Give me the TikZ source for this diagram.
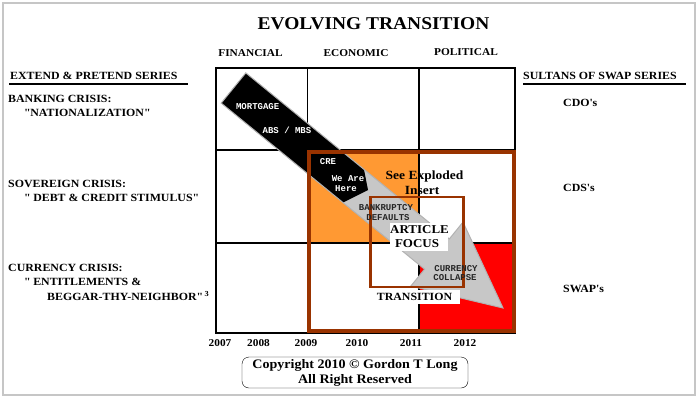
\documentclass[tikz,border=0pt]{standalone}
\usepackage{fontspec}
\setmainfont{Liberation Serif}[FakeStretch=1.08]
\newfontfamily\bandfont{Liberation Mono}
\usepackage{tikz}
\definecolor{rust}{RGB}{153,51,0}
\definecolor{peach}{RGB}{255,153,51}
\newcommand{\qq}{\textquotedbl}
\newcommand{\apos}{\textquotesingle}
\tikzstyle{heading} = [font=\fontsize{10.5}{12}\selectfont\bfseries, inner sep=0pt]
\tikzstyle{sidelabel} = [font=\fontsize{11}{13}\selectfont\bfseries, anchor=west, inner sep=0pt]
\tikzstyle{year} = [font=\fontsize{10.5}{12}\selectfont\bfseries, inner sep=0pt]
\tikzstyle{bandtext} = [font=\fontsize{9}{10}\selectfont\bandfont\bfseries, text=white, inner sep=0pt]
\tikzstyle{greytext} = [bandtext, text=black!85]
\tikzstyle{gridline} = [line width=1.1pt]
\tikzstyle{rule} = [line width=2pt]

\begin{document}
\begin{tikzpicture}[x=1pt, y=-1pt]
\useasboundingbox (0,0) rectangle (699,399);
\draw[gray!45, line width=1.5pt] (3,3) rectangle (695,395);

\node(title) [font=\fontsize{18}{20}\selectfont\bfseries, inner sep=0pt] at (373.5,24) {EVOLVING TRANSITION};
\node(financial) [heading] at (250.5,53) {FINANCIAL};
\node(economic)  [heading] at (356,53) {ECONOMIC};
\node(political) [heading] at (466,52) {POLITICAL};

% fills
\fill[peach] (309.3,152) rectangle (419,243);
\fill[red] (419,243) rectangle (513.7,331);

% grid
\draw[gridline] (216,68) rectangle (515,333);
\draw[gridline] (307.5,68) -- (307.5,333);
\draw[gridline] (419,68) -- (419,333);
\draw[gridline] (216,150) -- (515,150);
\draw[gridline] (216,243) -- (515,243);

% the big arrow
\coordinate (tailup) at (245.8,72.9);
\coordinate (taildown) at (221.2,103.1);
\coordinate (baseup) at (449.3,239.0);
\coordinate (basedown) at (424.6,269.2);
\coordinate (shoulderup) at (463.0,222.1);
\coordinate (shoulderdown) at (410.8,286.1);
\coordinate (tip) at (503,308);
\fill[black!22] (tailup) -- (baseup) -- (shoulderup) -- (tip) -- (shoulderdown) -- (basedown) -- (taildown) -- cycle;
\fill[black] (tailup) -- (364,169.5) -- (368,190) -- (343,202.6) -- (taildown) -- cycle;
\draw[gray!60, line width=1pt] (tailup) -- (baseup) -- (shoulderup) -- (tip) -- (shoulderdown) -- (basedown) -- (taildown) -- cycle;

% brown frames
\draw[rust, line width=4pt] (309.3,152) rectangle (513.7,331);
\draw[rust, line width=2.3pt] (370.5,197) rectangle (463.5,287);

\node(mortgage) [bandtext] at (257.7,106.5) {MORTGAGE};
\node(absmbs)   [bandtext] at (287,130.5) {ABS / MBS};
\node(cre)      [bandtext] at (328,162) {CRE};
\node(weare)    [bandtext] at (348,178.5) {We Are};
\node(here)     [bandtext] at (346,188.5) {Here};
\node(bankrupt) [greytext] at (386,207.5) {BANKRUPTCY};
\node(defaults) [greytext] at (388,217.5) {DEFAULTS};
\node(currency) [greytext] at (456,268.5) {CURRENCY};
\node(collapse) [greytext] at (455,277.5) {COLLAPSE};

\node(exploded) [font=\fontsize{12.5}{13}\selectfont\bfseries, inner sep=0pt] at (424.5,176) {See Exploded};
\node(insert)   [font=\fontsize{12.5}{13}\selectfont\bfseries, inner sep=0pt] at (422,190.5) {Insert};

\fill[white] (390,223) rectangle (448,251);
\node(article) [font=\fontsize{12}{13}\selectfont\bfseries, inner sep=0pt] at (419.5,230) {ARTICLE};
\node(focus)   [font=\fontsize{12}{13}\selectfont\bfseries, inner sep=0pt] at (417,244) {FOCUS};
\fill[white] (377,290) rectangle (460,304);
\node(transition) [font=\fontsize{11}{12}\selectfont\bfseries, inner sep=0pt] at (414.5,297) {TRANSITION};

% left series
\node(extend) [sidelabel] at (10,75.5) {EXTEND \& PRETEND SERIES};
\draw[rule] (9,84) -- (188,84);
\node(banking)   [sidelabel] at (8,99) {BANKING CRISIS:};
\node(national)  [sidelabel] at (24,113) {\qq NATIONALIZATION\qq};
\node(sovereign) [sidelabel] at (8,184) {SOVEREIGN CRISIS:};
\node(debt)      [sidelabel] at (24,198) {\qq{} DEBT \& CREDIT STIMULUS\qq};
\node(currcrisis) [sidelabel] at (8,268) {CURRENCY CRISIS:};
\node(entitle)   [sidelabel] at (24,282) {\qq{} ENTITLEMENTS \&};
\node(beggar)    [sidelabel] at (47,296) {BEGGAR-THY-NEIGHBOR\qq\,\textsuperscript{3}};

% right series
\node(sultans) [sidelabel] at (523,75.5) {SULTANS OF SWAP SERIES};
\draw[rule] (523,84) -- (686,84);
\node(cdo)  [sidelabel] at (563,103) {CDO\apos s};
\node(cds)  [sidelabel] at (563,188) {CDS\apos s};
\node(swap) [sidelabel] at (563,289) {SWAP\apos s};

% years
\node(y2007) [year] at (220,343) {2007};
\node(y2008) [year] at (258.5,343) {2008};
\node(y2009) [year] at (306,343) {2009};
\node(y2010) [year] at (357,343) {2010};
\node(y2011) [year] at (411,343) {2011};
\node(y2012) [year] at (465,343) {2012};

\node(copyright) [draw, rounded corners=7pt, minimum width=226pt, minimum height=31pt, align=center, inner sep=0pt, font=\fontsize{13}{15}\selectfont\bfseries] at (355,372.5) {Copyright 2010 © Gordon T Long\\All Right Reserved};

\end{tikzpicture}
\end{document}
